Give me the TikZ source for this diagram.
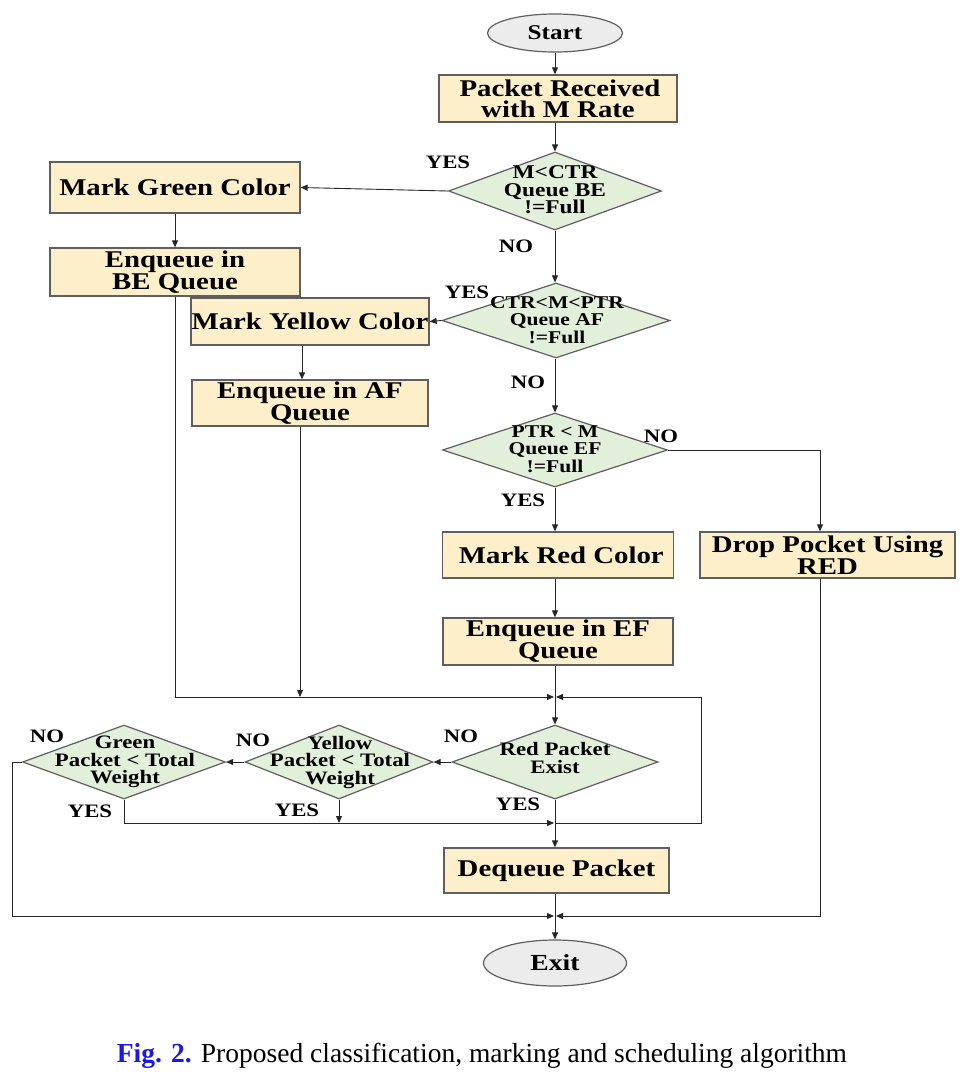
\documentclass[tikz,border=0pt]{standalone}
\usepackage{fontspec}
\setmainfont{Liberation Serif}
\newfontfamily\wfont[FakeStretch=1.2]{Liberation Serif}
\usepackage{xcolor}
\definecolor{boxfill}{RGB}{253,239,201}
\definecolor{diafill}{RGB}{226,239,218}
\definecolor{termfill}{RGB}{236,236,236}
\definecolor{edgegray}{RGB}{95,95,95}
\definecolor{figblue}{RGB}{25,25,225}
\usetikzlibrary{shapes.geometric,arrows.meta,positioning,calc}
\tikzset{
  flow/.style={-{Triangle[length=7pt,width=6pt]}, line width=0.9pt, black!85},
  procbox/.style 2 args={rectangle, draw=edgegray, line width=1.3pt, fill=boxfill,
                         minimum width=#1pt, minimum height=#2pt, inner sep=0pt, align=center,
                         font=\wfont\bfseries\fontsize{24}{19.5}\selectfont},
  decision/.style 2 args={diamond, draw=edgegray, line width=1.2pt, fill=diafill,
                          minimum width=#1pt, minimum height=#2pt, inner sep=0pt},
  dtext/.style={align=center, inner sep=0pt, font=\wfont\bfseries\fontsize{#1}{17.5}\selectfont},
  dtext/.default=19,
  terminal/.style 2 args={ellipse, draw=edgegray, line width=1.2pt, fill=termfill,
                          minimum width=#1pt, minimum height=#2pt, inner sep=0pt,
                          font=\wfont\bfseries\fontsize{21}{24}\selectfont},
  yesno/.style={inner sep=0pt, font=\wfont\bfseries\fontsize{19}{22}\selectfont},
}

\begin{document}
\begin{tikzpicture}[x=1pt,y=-1pt]
  \useasboundingbox (0,0) rectangle (975,1076);
  \coordinate (col) at (555,0);

  % main column
  \node[terminal={135}{38}] (start) at (555,33) {Start};
  \node[procbox={238}{47}, font=\wfont\bfseries\fontsize{24}{21}\selectfont] (pkt) at (558,98.5)
    {\,Packet Received\\with M Rate};
  \node[decision={213}{78}] (d1) at (555,191) {};
  \node[dtext=19.5] (d1t) at (555,190) {M<CTR\\Queue BE\\!=Full};
  \node[decision={228}{75}] (d2) at (556,320.5) {};
  \node[dtext=18] (d2t) at (557,320) {CTR<M<PTR\\Queue AF\\!=Full};
  \node[decision={225}{74}] (d3) at (555,450) {};
  \node[dtext=18] (d3t) at (555,449) {PTR < M\\Queue EF\\!=Full};
  \node[procbox={231}{46}] (red) at (558,555) {\;Mark Red Color};
  \node[procbox={255}{46}] (drop) at (827.5,555) {Drop Pocket Using\\RED};
  \node[procbox={230}{47}] (ef) at (558,641.5) {Enqueue in EF\\Queue};

  % left branches
  \node[procbox={250}{51}] (green) at (175,187.5) {Mark Green Color};
  \node[procbox={250}{48}] (be) at (175,272) {Enqueue in\\BE Queue};
  \node[procbox={238}{47}] (yellow) at (310,321.5) {Mark Yellow Color};
  \node[procbox={236}{46}] (af) at (310,403) {Enqueue in AF\\Queue};

  % scheduling
  \node[decision={206}{74}] (dred) at (555,762) {};
  \node[dtext] (dredt) at (555,758) {Red Packet\\Exist};
  \node[decision={188}{74}] (dyel) at (339,762) {};
  \node[dtext] (dyelt) at (340,762) {Yellow\\Packet < Total\\Weight};
  \node[decision={203}{74}] (dgrn) at (124,762) {};
  \node[dtext] (dgrnt) at (125,762) {Green\\Packet < Total\\Weight};
  \node[procbox={225}{45}] (deq) at (556.5,870.5) {Dequeue Packet};
  \node[terminal={143}{46}] (exit) at (555,963) {\fontsize{23}{26}\selectfont Exit};

  \coordinate (mtop) at (555,697);
  \coordinate (mbot) at (555,823);
  \coordinate (mexit) at (555,916);
  \coordinate (loopr) at (701,823);
  \coordinate (gout) at (12,762);

  % YES / NO
  \node[yesno] (y1) at (448,162) {YES};
  \node[yesno] (n1) at (516,246) {NO};
  \node[yesno] (y2) at (467,292) {YES};
  \node[yesno] (n2) at (528,382) {NO};
  \node[yesno] (n3) at (661,436) {NO};
  \node[yesno] (y3) at (523,500) {YES};
  \node[yesno] (n4) at (461,736) {NO};
  \node[yesno] (y4) at (518,804) {YES};
  \node[yesno] (n5) at (253,740) {NO};
  \node[yesno] (y5) at (297,810) {YES};
  \node[yesno] (n6) at (47,736) {NO};
  \node[yesno] (y6) at (90,811) {YES};

  % connectors
  \draw[flow] (start) -- (pkt.north -| col);
  \draw[flow] (pkt.south -| col) -- (d1.north);
  \draw[flow] (d1.west) -- (green.east);
  \draw[flow] (green) -- (be);
  \draw[flow] (d1.south) -- (d2.north -| col);
  \draw[flow] (d2.west) -- (yellow.east);
  \draw[flow] ([xshift=-8pt]yellow.south) -- ([xshift=-8pt]af.north);
  \draw[flow] (d2.south -| col) -- (d3.north);
  \draw[flow] (d3.east) -| ([xshift=-7.5pt]drop.north);
  \draw[flow] (d3.south) -- (red.north -| col);
  \draw[flow] (red.south -| col) -- (ef.north -| col);
  \draw[flow] (ef.south -| col) -- (dred.north);
  \draw[flow] (be.south) |- ([xshift=-1pt]mtop);
  \draw[flow] ([xshift=-10pt]af.south) -- ([xshift=-10pt]af.south |- mtop);
  \draw[flow] (mbot) -- (loopr) |- ([xshift=1pt]mtop);
  \draw[flow] (dred.west) -- (dyel.east);
  \draw[flow] (dyel.west) -- (dgrn.east);
  \draw[flow] (dgrn.south) |- ([xshift=-1pt]mbot);
  \draw[flow] (dyel.south) -- (dyel.south |- mbot);
  \draw[flow] (dred.south) -- (deq.north -| col);
  \draw[flow] (dgrn.west) -- (gout) |- ([xshift=-1pt]mexit);
  \draw[flow] ([xshift=-7.5pt]drop.south) |- ([xshift=1pt]mexit);
  \draw[flow] (deq.south -| col) -- (exit.north);

  % caption
  \node[inner sep=0pt, font=\fontsize{27.5}{31}\selectfont] (caption) at (482,1056)
    {{\color{figblue}\bfseries Fig. 2.} Proposed classification, marking and scheduling algorithm};
\end{tikzpicture}
\end{document}
